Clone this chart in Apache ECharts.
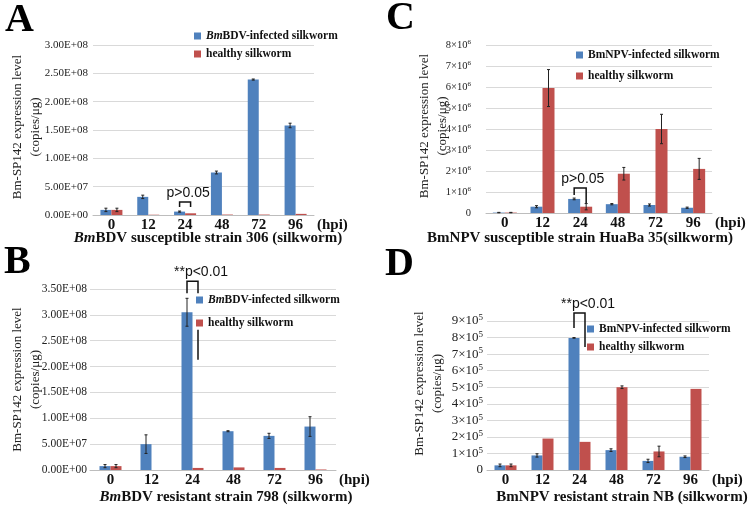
<!DOCTYPE html>
<html><head><meta charset="utf-8">
<script src="https://cdn.jsdelivr.net/npm/echarts@6/dist/echarts.min.js"></script>
<style>html,body{margin:0;padding:0;background:#fff}#c{width:750px;height:509px}</style>
</head><body><div id="c"></div>
<script>
// ---- data ----
const categories = ['0', '12', '24', '48', '72', '96'];

const aInfected    = [9e6, 3.2e7, 6e6, 7.5e7, 2.39e8, 1.58e8];
const aInfectedErr = [3e6, 3e6, 1e6, 2.5e6, 1e6, 4e6];
const aHealthy     = [9e6, 5e5, 3e6, 8e5, 8e5, 2e6];
const aHealthyErr  = [3e6, 0, 0, 0, 0, 0];

const bInfected    = [7.5e6, 5.0e7, 3.05e8, 7.5e7, 6.6e7, 8.4e7];
const bInfectedErr = [3e6, 1.8e7, 2.7e7, 1e6, 5e6, 1.9e7];
const bHealthy     = [7.5e6, 0, 4e6, 5e6, 4e6, 1e6];
const bHealthyErr  = [3e6, 0, 0, 0, 0, 0];

const cInfected    = [2e4, 3.0e5, 6.7e5, 4.2e5, 3.8e5, 2.5e5];
const cInfectedErr = [1e4, 5e4, 4e4, 3e4, 5e4, 3e4];
const cHealthy     = [2e4, 5.95e6, 3.0e5, 1.87e6, 4.0e6, 2.1e6];
const cHealthyErr  = [1e4, 8.8e5, 1.5e5, 3.0e5, 7.0e5, 5.0e5];

const dInfected    = [2.8e4, 8.8e4, 7.98e5, 1.2e5, 5.5e4, 8.0e4];
const dInfectedErr = [8e3, 1e4, 2e3, 8e3, 1e4, 5e3];
const dHealthy     = [2.8e4, 1.9e5, 1.7e5, 5.0e5, 1.12e5, 4.9e5];
const dHealthyErr  = [8e3, 0, 0, 8e3, 3.2e4, 0];

const yTicksA = {max: 3.0e8, interval: 5e7};
const yTicksB = {max: 3.5e8, interval: 5e7};
const yTicksC = {max: 8e6, interval: 1e6};
const yTicksD = {max: 9e5, interval: 1e5};

const nameBDV = 'BmBDV-infected silkworm';
const nameNPV = 'BmNPV-infected silkworm';
const nameHealthy = 'healthy silkworm';

// ---- style ----
const SERIF = '"Liberation Serif", "Times New Roman", serif';
const SANS = '"Liberation Sans", Arial, sans-serif';
const BLUE = '#4F81BD', RED = '#C0504D';
const grids = [
  {left: 93, top: 45, width: 221, height: 170},
  {left: 90, top: 289, width: 246, height: 181},
  {left: 486, top: 45, width: 226, height: 168},
  {left: 487, top: 321, width: 222, height: 149}
];
const barW = [11, 11, 12, 11];

function expFmt(v) {
  const parts = v.toExponential(2).split('e');
  const sign = parts[1][0];
  const d = parts[1].slice(1).padStart(2, '0');
  return parts[0] + 'E' + sign + d;
}
function sciFmt(pow, div) {
  return function (v) {
    if (v === 0) return '{b|0}';
    return '{b|' + Math.round(v / div) + '×10}{s|' + pow + '}';
  };
}

function xAxis(gi, nameGap) {
  return {
    type: 'category', gridIndex: gi, data: categories,
    axisTick: {show: false},
    axisLine: {lineStyle: {color: '#bdbdbd', width: 1}},
    axisLabel: {fontFamily: SERIF, fontWeight: 'bold', fontSize: 15, color: '#111', margin: 3},
    name: '(hpi)', nameLocation: 'end', nameGap: nameGap,
    nameTextStyle: {fontFamily: SERIF, fontWeight: 'bold', fontSize: 15, color: '#111',
      verticalAlign: 'top', padding: [3, 0, 0, 0]}
  };
}
function yAxis(gi, ticks, formatter, rich, labelSize, nameGap, margin, namePad) {
  return {
    type: 'value', gridIndex: gi, min: 0, max: ticks.max, interval: ticks.interval,
    axisLine: {show: false}, axisTick: {show: false},
    splitLine: {lineStyle: {color: '#d9d9d9', width: 1}},
    axisLabel: {formatter: formatter, fontFamily: SERIF, fontSize: labelSize, color: '#222',
      margin: margin, rich: rich},
    name: 'Bm-SP142 expression level\n(copies/μg)', nameLocation: 'middle', nameGap: nameGap,
    nameMoveOverlap: false,
    nameTextStyle: {fontFamily: SERIF, fontSize: 13, color: '#222', lineHeight: 18, padding: namePad}
  };
}
function bar(name, data, color, gi) {
  return {type: 'bar', name: name, data: data, xAxisIndex: gi, yAxisIndex: gi,
    barWidth: barW[gi], barGap: '0%', itemStyle: {color: color}, z: 2, silent: true};
}
function errBars(vals, errs, gi, side) {
  return {
    type: 'custom', xAxisIndex: gi, yAxisIndex: gi, z: 5, silent: true,
    data: vals.map(function (v, i) { return [i, v, errs[i]]; }),
    renderItem: function (params, api) {
      const i = api.value(0), v = api.value(1), e = api.value(2);
      if (!e) return null;
      const x = api.coord([i, v])[0] + side * barW[gi] / 2;
      const yt = api.coord([i, v + e])[1], yb = api.coord([i, Math.max(v - e, 0)])[1];
      const st = {stroke: '#222', lineWidth: 1};
      return {type: 'group', children: [
        {type: 'line', shape: {x1: x, y1: yt, x2: x, y2: yb}, style: st},
        {type: 'line', shape: {x1: x - 1.5, y1: yt, x2: x + 1.5, y2: yt}, style: st},
        {type: 'line', shape: {x1: x - 1.5, y1: yb, x2: x + 1.5, y2: yb}, style: st}
      ]};
    }
  };
}
function legendFmt(n) {
  if (n === nameBDV) return '{i|Bm}{n|BDV-infected silkworm}';
  return '{n|' + n + '}';
}
const legRich = {
  i: {fontFamily: SERIF, fontStyle: 'italic', fontWeight: 'bold', fontSize: 11.5, color: '#111'},
  n: {fontFamily: SERIF, fontWeight: 'bold', fontSize: 11.5, color: '#111'}
};
function legend(names, left, top, gap) {
  return {data: names, orient: 'vertical', left: left, top: top, itemGap: gap,
    itemWidth: 7, itemHeight: 7, icon: 'rect', selectedMode: false, padding: 0,
    formatter: legendFmt, textStyle: {lineHeight: 12, rich: legRich}};
}

const richSci = (size) => ({
  b: {fontFamily: SERIF, fontSize: size, color: '#222', lineHeight: size + 2},
  s: {fontFamily: SERIF, fontSize: Math.round(size * 0.7), color: '#222', verticalAlign: 'top', lineHeight: size + 2}
});

const chart = echarts.init(document.getElementById('c'), null, {renderer: 'canvas'});
const option = {
  animation: false,
  backgroundColor: '#fff',
  grid: grids,
  xAxis: [xAxis(0, 3), xAxis(1, 3), xAxis(2, 3), xAxis(3, 3)],
  yAxis: [
    yAxis(0, yTicksA, expFmt, undefined, 11, 48, 5, [0, 0, 0, 6]),
    yAxis(1, yTicksB, expFmt, undefined, 11.5, 45, 3, [0, 0, 0, 0]),
    yAxis(2, yTicksC, sciFmt(6, 1e6), richSci(10.5), 10.5, 34, 15, [0, 0, 0, 6]),
    yAxis(3, yTicksD, sciFmt(5, 1e5), richSci(13), 13, 40, 4, [0, 0, 0, 24])
  ],
  legend: [
    legend([nameBDV, nameHealthy], 194, 30, 6),
    legend([nameBDV, nameHealthy], 196, 294, 11),
    legend([nameNPV, nameHealthy], 576, 49, 9),
    legend([nameNPV, nameHealthy], 587, 323, 6)
  ],
  series: [
    bar(nameBDV, aInfected, BLUE, 0), bar(nameHealthy, aHealthy, RED, 0),
    bar(nameBDV, bInfected, BLUE, 1), bar(nameHealthy, bHealthy, RED, 1),
    bar(nameNPV, cInfected, BLUE, 2), bar(nameHealthy, cHealthy, RED, 2),
    bar(nameNPV, dInfected, BLUE, 3), bar(nameHealthy, dHealthy, RED, 3),
    errBars(aInfected, aInfectedErr, 0, -1), errBars(aHealthy, aHealthyErr, 0, 1),
    errBars(bInfected, bInfectedErr, 1, -1), errBars(bHealthy, bHealthyErr, 1, 1),
    errBars(cInfected, cInfectedErr, 2, -1), errBars(cHealthy, cHealthyErr, 2, 1),
    errBars(dInfected, dInfectedErr, 3, -1), errBars(dHealthy, dHealthyErr, 3, 1)
  ]
};
chart.setOption(option);

// ---- annotations (placed through the chart's own scales) ----
const sigNotes = [
  {gi: 0, cat: 2, label: 'p>0.05', top: 2.3e7, left: 1.4e7, right: 1.4e7},
  {gi: 1, cat: 2, label: '**p<0.01', top: 3.65e8, left: 3.42e8, right: 3.42e8, extra: [2.71e8, 2.13e8]},
  {gi: 2, cat: 2, label: 'p>0.05', top: 1.19e6, left: 0.86e6, right: 0.48e6},
  {gi: 3, cat: 2, label: '**p<0.01', top: 9.48e5, left: 8.58e5, right: 7.43e5}
];
const graphics = [];
sigNotes.forEach(function (n) {
  const p = function (v) { return chart.convertToPixel({gridIndex: n.gi}, [n.cat, v]); };
  const c = p(n.top);
  const xl = c[0] - barW[n.gi] / 2, xr = c[0] + barW[n.gi] / 2;
  const yt = c[1], yl = p(n.left)[1], yr = p(n.right)[1];
  const st = {stroke: '#111', lineWidth: 1.5, fill: null};
  graphics.push({type: 'polyline', z: 10, shape: {points: [[xl, yl], [xl, yt], [xr, yt], [xr, yr]]}, style: st});
  if (n.extra) {
    graphics.push({type: 'line', z: 10, shape: {x1: xr, y1: p(n.extra[0])[1], x2: xr, y2: p(n.extra[1])[1]}, style: st});
  }
  graphics.push({type: 'text', z: 10, x: xl - 13, y: yt - 2,
    style: {text: n.label, fontFamily: SANS, fontSize: 14, fill: '#111', align: 'left', verticalAlign: 'bottom'}});
});

const titleRich = {
  i: {fontFamily: SERIF, fontStyle: 'italic', fontWeight: 'bold', fontSize: 15, fill: '#111'},
  n: {fontFamily: SERIF, fontWeight: 'bold', fontSize: 15, fill: '#111'}
};
const xTitles = [
  {x: 208, y: 238, text: '{i|Bm}{n|BDV susceptible strain 306 (silkworm)}'},
  {x: 226, y: 497, text: '{i|Bm}{n|BDV resistant strain 798 (silkworm)}'},
  {x: 580, y: 238, text: '{n|BmNPV susceptible strain HuaBa 35(silkworm)}'},
  {x: 622, y: 497, text: '{n|BmNPV resistant strain NB (silkworm)}'}
];
xTitles.forEach(function (t) {
  graphics.push({type: 'text', x: t.x, y: t.y,
    style: {text: t.text, rich: titleRich, align: 'center', verticalAlign: 'middle'}});
});
const letters = [
  {t: 'A', x: 5, y: 21}, {t: 'C', x: 386, y: 19}, {t: 'B', x: 4, y: 263}, {t: 'D', x: 385, y: 265}
];
letters.forEach(function (l) {
  graphics.push({type: 'text', x: l.x, y: l.y,
    style: {text: l.t, fontFamily: SERIF, fontWeight: 'bold', fontSize: 40, fill: '#000', align: 'left', verticalAlign: 'middle'}});
});
chart.setOption({graphic: graphics});
</script></body></html>
